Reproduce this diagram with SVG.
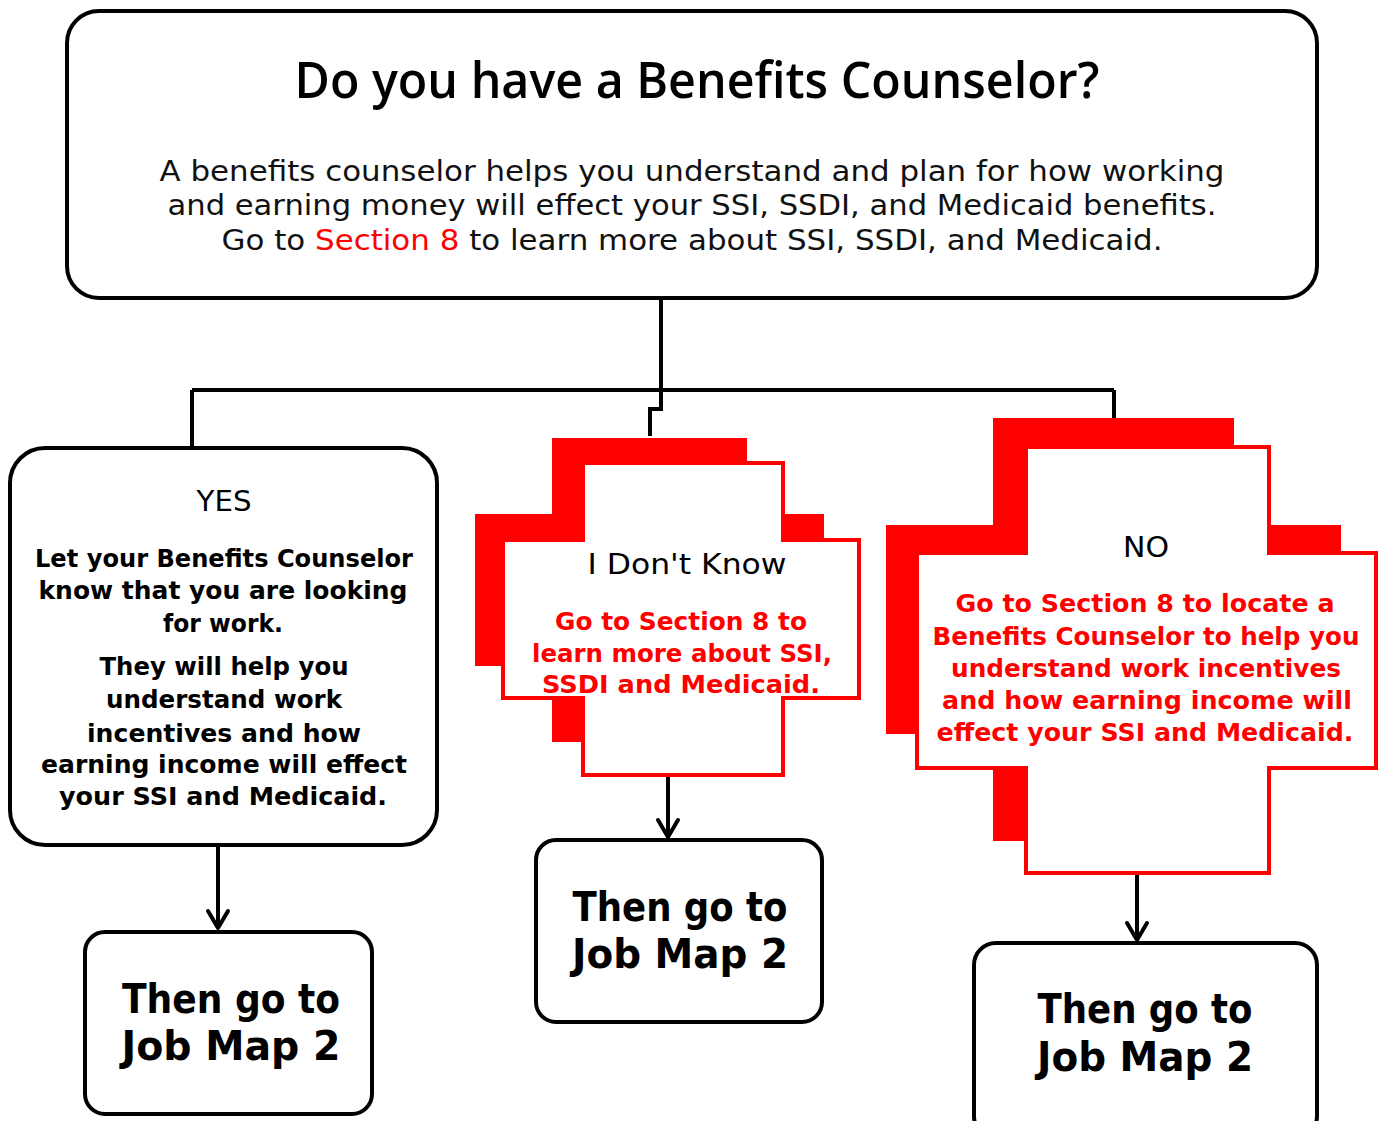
<svg xmlns="http://www.w3.org/2000/svg" width="1380" height="1121" viewBox="0 0 1380 1121">
<defs>
<style>
.box{fill:#fff;stroke:#000;stroke-width:4}
.shadow{fill:#ff0000;stroke:none}
.cross{fill:#fff;stroke:#ff0000;stroke-width:4}
.conn{fill:none;stroke:#000;stroke-width:4}
.title{font-family:"Open Sans","Noto Sans","Liberation Sans",sans-serif;font-weight:600;font-size:50px;fill:#000;text-anchor:middle}
.body{font-family:"DejaVu Sans","Liberation Sans",sans-serif;font-weight:400;font-size:28px;fill:#111;text-anchor:middle}
.head{font-family:"DejaVu Sans","Liberation Sans",sans-serif;font-size:28px;fill:#000;text-anchor:middle}
.bold{font-family:"DejaVu Sans","Liberation Sans",sans-serif;font-weight:bold;font-size:25px;fill:#000;text-anchor:middle}
.red{fill:#ff0000}
.big{font-family:"DejaVu Sans","Liberation Sans",sans-serif;font-weight:bold;font-size:40px;fill:#000;text-anchor:middle}
</style>
<marker id="arr" markerUnits="userSpaceOnUse" viewBox="-4 -14 26 28" markerWidth="26" markerHeight="28" refX="17" refY="0" orient="auto" overflow="visible">
<path d="M0,-10 L17,0 L0,10" fill="none" stroke="#000" stroke-width="4" stroke-linecap="round" stroke-linejoin="round"/>
</marker>
</defs>

<g id="connectors">
<path class="conn" d="M661,298 V390"/>
<path class="conn" d="M192,390 H1114"/>
<path class="conn" d="M192,390 V448"/>
<path class="conn" d="M661,390 V409 H650 V436"/>
<path class="conn" d="M1114,390 V418"/>
<path class="conn" d="M218,845 V928" marker-end="url(#arr)"/>
<path class="conn" d="M668,775 V837" marker-end="url(#arr)"/>
<path class="conn" d="M1137,873 V940" marker-end="url(#arr)"/>
</g>

<g id="top">
<rect class="box" x="67" y="11" width="1250" height="287" rx="32"/>
<text class="title" x="697" y="98" textLength="805" lengthAdjust="spacingAndGlyphs">Do you have a Benefits Counselor?</text>
<text class="body" x="692" y="181" textLength="1065" lengthAdjust="spacingAndGlyphs">A benefits counselor helps you understand and plan for how working</text>
<text class="body" x="692" y="215" textLength="1049" lengthAdjust="spacingAndGlyphs">and earning money will effect your SSI, SSDI, and Medicaid benefits.</text>
<text class="body" x="692" y="250" textLength="941" lengthAdjust="spacingAndGlyphs">Go to <tspan class="red">Section 8</tspan> to learn more about SSI, SSDI, and Medicaid.</text>
</g>

<g id="yes">
<rect class="box" x="10" y="448" width="427" height="397" rx="35"/>
<text class="head" x="224" y="511" textLength="55" lengthAdjust="spacingAndGlyphs">YES</text>
<text class="bold" x="224" y="567" textLength="378" lengthAdjust="spacingAndGlyphs">Let your Benefits Counselor</text>
<text class="bold" x="223" y="599" textLength="369" lengthAdjust="spacingAndGlyphs">know that you are looking</text>
<text class="bold" x="223" y="632" textLength="120" lengthAdjust="spacingAndGlyphs">for work.</text>
<text class="bold" x="224" y="675" textLength="249" lengthAdjust="spacingAndGlyphs">They will help you</text>
<text class="bold" x="224" y="708" textLength="236" lengthAdjust="spacingAndGlyphs">understand work</text>
<text class="bold" x="224" y="742" textLength="274" lengthAdjust="spacingAndGlyphs">incentives and how</text>
<text class="bold" x="224" y="773" textLength="366" lengthAdjust="spacingAndGlyphs">earning income will effect</text>
<text class="bold" x="223" y="805" textLength="328" lengthAdjust="spacingAndGlyphs">your SSI and Medicaid.</text>
</g>

<g id="dontknow">
<polygon class="shadow" points="552,438 747,438 747,514 824,514 824,666 747,666 747,742 552,742 552,666 475,666 475,514 552,514"/>
<polygon class="cross" points="583,463 783,463 783,540 859,540 859,698 783,698 783,775 583,775 583,698 503,698 503,540 583,540"/>
<text class="head" x="687" y="574" textLength="199" lengthAdjust="spacingAndGlyphs">I Don't Know</text>
<text class="bold red" x="681" y="630" textLength="252" lengthAdjust="spacingAndGlyphs">Go to Section 8 to</text>
<text class="bold red" x="682" y="662" textLength="300" lengthAdjust="spacingAndGlyphs">learn more about SSI,</text>
<text class="bold red" x="681" y="693" textLength="278" lengthAdjust="spacingAndGlyphs">SSDI and Medicaid.</text>
</g>

<g id="no">
<polygon class="shadow" points="993,418 1234,418 1234,525 1341,525 1341,734 1234,734 1234,841 993,841 993,734 886,734 886,525 993,525"/>
<polygon class="cross" points="1026,447 1269,447 1269,553 1376,553 1376,768 1269,768 1269,873 1026,873 1026,768 917,768 917,553 1026,553"/>
<text class="head" x="1146" y="557" textLength="46" lengthAdjust="spacingAndGlyphs">NO</text>
<text class="bold red" x="1145" y="612" textLength="379" lengthAdjust="spacingAndGlyphs">Go to Section 8 to locate a</text>
<text class="bold red" x="1146" y="645" textLength="427" lengthAdjust="spacingAndGlyphs">Benefits Counselor to help you</text>
<text class="bold red" x="1146" y="677" textLength="390" lengthAdjust="spacingAndGlyphs">understand work incentives</text>
<text class="bold red" x="1147" y="709" textLength="410" lengthAdjust="spacingAndGlyphs">and how earning income will</text>
<text class="bold red" x="1145" y="741" textLength="417" lengthAdjust="spacingAndGlyphs">effect your SSI and Medicaid.</text>
</g>

<g id="job-left">
<rect class="box" x="85" y="932" width="287" height="182" rx="20"/>
<text class="big" x="231" y="1013" textLength="218" lengthAdjust="spacingAndGlyphs">Then go to</text>
<text class="big" x="231" y="1060" textLength="219" lengthAdjust="spacingAndGlyphs">Job Map 2</text>
</g>

<g id="job-middle">
<rect class="box" x="536" y="840" width="286" height="182" rx="20"/>
<text class="big" x="680" y="921" textLength="215" lengthAdjust="spacingAndGlyphs">Then go to</text>
<text class="big" x="680" y="968" textLength="216" lengthAdjust="spacingAndGlyphs">Job Map 2</text>
</g>

<g id="job-right">
<rect class="box" x="974" y="943" width="343" height="195" rx="22"/>
<text class="big" x="1145" y="1023" textLength="215" lengthAdjust="spacingAndGlyphs">Then go to</text>
<text class="big" x="1145" y="1071" textLength="216" lengthAdjust="spacingAndGlyphs">Job Map 2</text>
</g>
</svg>
